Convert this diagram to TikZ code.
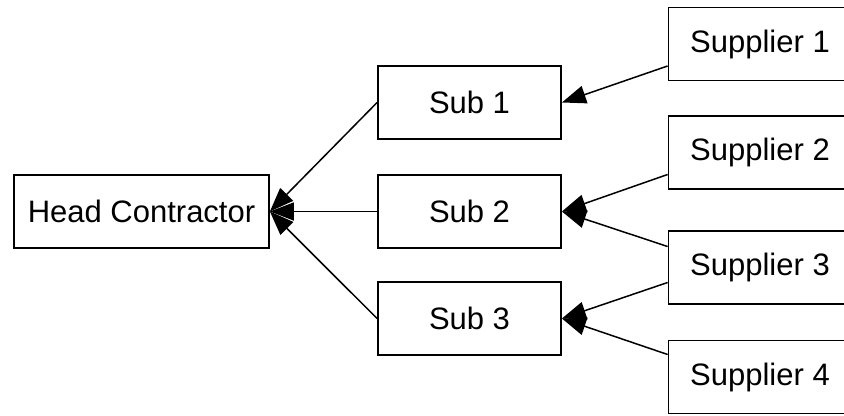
\documentclass[tikz,border=0pt]{standalone}
\usepackage{fontspec}
\setmainfont{Liberation Sans}
\usetikzlibrary{shapes,arrows.meta}
\tikzstyle{party} = [rectangle, minimum width=91.5pt, minimum height=36.5pt, text centered, draw=black, line width=0.9pt, font=\fontsize{15.5}{18}\selectfont]
\tikzstyle{pay} = [-{Triangle[length=12pt,width=9pt]}, line width=0.75pt]

\begin{document}
\begin{tikzpicture}[node distance=164pt]
			\clip (-70.75pt,105.75pt) rectangle (351.25pt,-102.25pt);
			\node[party,minimum width=127.5pt](head){Head Contractor};
			\node[party,right of=head](sub2){Sub 2};
			\node[party,right of=head,yshift=54.5pt](sub1){Sub 1};
			\node[party,right of=head,yshift=-53.5pt](sub3){Sub 3};
			\node[party,right of=sub1,xshift=-18.75pt,yshift=29.25pt](sup1){Supplier 1};
			\node[party,right of=sub2,xshift=-18.75pt,yshift=29.5pt](sup2){Supplier 2};
			\node[party,right of=sub3,xshift=-18.75pt,yshift=25.5pt](sup3){Supplier 3};
			\node[party,right of=sub3,xshift=-18.75pt,yshift=-29.25pt](sup4){Supplier 4};
			\draw[pay] (sub1.west)--(head.east);
			\draw[pay] (sub2.west)--(head.east);
			\draw[pay] (sub3.west)--(head.east);
			\draw[pay] ([yshift=-11pt]sup1.west)--(sub1.east);
			\draw[pay] ([yshift=-11pt]sup2.west)--(sub2.east);
			\draw[pay] ([yshift=10.5pt]sup3.west)--(sub2.east);
			\draw[pay] ([yshift=-7.5pt]sup3.west)--(sub3.east);
			\draw[pay] ([yshift=11.25pt]sup4.west)--(sub3.east);
		\end{tikzpicture}
\end{document}
